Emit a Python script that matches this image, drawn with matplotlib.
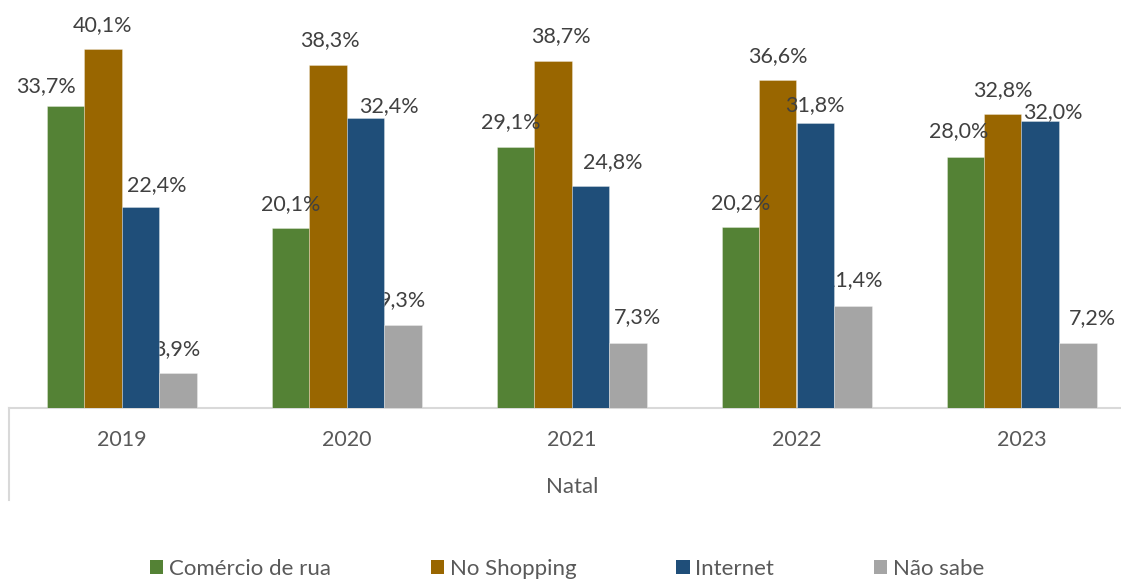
import matplotlib
matplotlib.use("Agg")
from matplotlib import pyplot as plt
from matplotlib.lines import Line2D
from matplotlib.patches import Patch
import numpy as np

# data
years = ["2019", "2020", "2021", "2022", "2023"]
series_names = ["Comércio de rua", "No Shopping", "Internet", "Não sabe"]
comercio_rua = [33.7, 20.1, 29.1, 20.2, 28.0]
no_shopping = [40.1, 38.3, 38.7, 36.6, 32.8]
internet = [22.4, 32.4, 24.8, 31.8, 32.0]
nao_sabe = [3.9, 9.3, 7.3, 11.4, 7.2]
group_label = "Natal"

colors = ["#548235", "#996600", "#1F4E79", "#A5A5A5"]
all_series = [comercio_rua, no_shopping, internet, nao_sabe]

# label nudges in pixels (dx, dy above bar top), per series then per year
label_nudge = [
    [(-19, 20), (0, 24), (-4, 25), (0, 24), (-7, 26)],
    [(0, 24), (2, 25), (8, 25), (0, 24), (0, 24)],
    [(16, 22), (24, 12), (22, 24), (0, 18), (13, 9)],
    [(-1, 24), (0, 25), (10, 25), (0, 26), (15, 25)],
]

plt.rcParams['font.family'] = ['Lato', 'DejaVu Sans']

W, H = 1121, 581
fig = plt.figure(figsize=(W / 100, H / 100), dpi=100)
left_px, right_px, zero_px = 9, 1134, 408
ax = fig.add_axes([left_px / W, (H - zero_px) / H, (right_px - left_px) / W, zero_px / H])

x = np.arange(len(years))
bw = 1 / 6.0
for i, vals in enumerate(all_series):
    xs = x + (i - 1.5) * bw
    ax.bar(xs, vals, width=bw, color=colors[i], edgecolor=(1, 1, 1, 0.35),
           linewidth=0.6, zorder=3)
    for j, v in enumerate(vals):
        dx, dy = label_nudge[i][j]
        ax.annotate(f"{v:.1f}".replace(".", ",") + "%", (xs[j], v),
                    xytext=(dx, dy), textcoords="offset pixels",
                    ha="center", va="center", fontsize=15.5, color="#404040",
                    zorder=2 if i == 3 else 5)

ax.set_xlim(-0.5, 4.5)
ax.set_ylim(0, zero_px / 8.96)
ax.set_yticks([])
ax.set_xticks(x)
ax.set_xticklabels(years, fontsize=15.5, color="#595959")
ax.tick_params(axis="x", length=0, pad=16)
for s in ["top", "right", "left"]:
    ax.spines[s].set_visible(False)
ax.spines["bottom"].set_color("#D9D9D9")
ax.spines["bottom"].set_linewidth(1.5)

# left border of the multi-level category axis
fig.add_artist(Line2D([left_px / W, left_px / W], [(H - 408) / H, (H - 500) / H],
                      color="#D9D9D9", linewidth=1.5))
fig.text(572 / W, (H - 487) / H, group_label, ha="center", va="center",
         fontsize=16, color="#595959")

handles = [Patch(facecolor=c, edgecolor="none") for c in colors]
fig.legend(handles, series_names, loc="center", bbox_to_anchor=(567 / W, (H - 569) / H),
           ncol=4, frameon=False, fontsize=16, labelcolor="#595959",
           handlelength=0.6, handleheight=0.6, handletextpad=0.25, columnspacing=4.5)

fig.savefig("out.png", dpi=100)
